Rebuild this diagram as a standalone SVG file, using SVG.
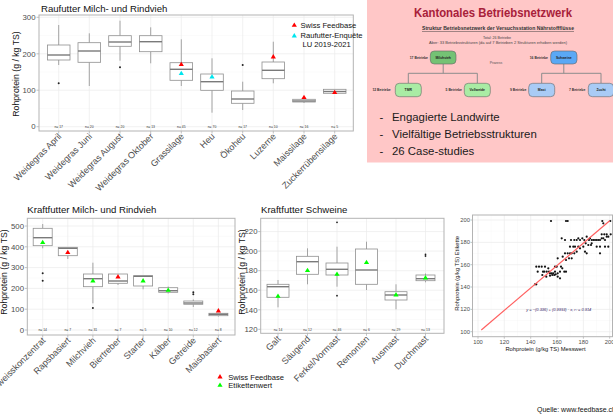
<svg xmlns="http://www.w3.org/2000/svg" xmlns:xlink="http://www.w3.org/1999/xlink" width="613" height="414" viewBox="0 0 613 414">
<style>
text{font-family:"Liberation Sans",Arial,sans-serif}
.gmaj{stroke:#ebebeb;stroke-width:0.7;fill:none}
.gmin{stroke:#f4f4f4;stroke-width:0.4;fill:none}
.panel{fill:none;stroke:#b3b3b3;stroke-width:1}
.tk{stroke:#b3b3b3;stroke-width:0.8}
.box{fill:#fff;stroke:#8f8f8f;stroke-width:0.8}
.wh{stroke:#8f8f8f;stroke-width:0.8}
.med{stroke:#7a7a7a;stroke-width:1.4}
.out{fill:#222}
.red{fill:#ff0000}
.cyan{fill:#00e5ee}
.green{fill:#00ff00}
.ty{font-size:7.8px;fill:#4d4d4d;text-anchor:end}
.xl{font-size:9px;fill:#4d4d4d;text-anchor:end}
.nl{font-size:3.4px;fill:#333;text-anchor:middle}
.ttl{font-size:9.6px;fill:#111}
.ax{font-size:8.7px;fill:#111;text-anchor:middle}
.lg{font-size:7.6px;fill:#111}
.sty{font-size:5.8px;fill:#4d4d4d;text-anchor:end}
.stx{font-size:5.8px;fill:#4d4d4d;text-anchor:middle}
.sax{font-size:5.8px;fill:#111;text-anchor:middle}
.pt{fill:#111}
.node{stroke:#666;stroke-width:0.6}
.nt{font-size:3.4px;font-weight:bold;fill:#222;text-anchor:middle}
.bt{font-size:3.4px;font-weight:bold;fill:#333;text-anchor:end}
.conn{stroke:#8c8c8c;stroke-width:1;fill:none}
.bul{font-size:11.4px;fill:#1a1a1a}
</style>
<defs>
<path id="tri" d="M0,-2.6 L2.6,1.8 L-2.6,1.8Z"/>
</defs>
<rect width="613" height="414" fill="#fff"/>

<!-- Chart A: Raufutter -->
<g id="chart-raufutter">
<text class="ttl" x="41" y="11.5">Raufutter Milch- und Rindvieh</text>
<path class="gmin" d="M39,108.5H353.3M39,72H353.3M39,35.5H353.3"/>
<path class="gmaj" d="M39,126.7H353.3M39,90.2H353.3M39,53.8H353.3M39,17.3H353.3M58.7,15V131M89.3,15V131M120,15V131M150.7,15V131M181.3,15V131M212,15V131M242.7,15V131M273.3,15V131M304,15V131M334.7,15V131"/>
<rect class="panel" x="39" y="15" width="314.3" height="116"/>
<path class="tk" d="M36.5,126.7H39M36.5,90.2H39M36.5,53.8H39M36.5,17.3H39M58.7,131V133.5M89.3,131V133.5M120,131V133.5M150.7,131V133.5M181.3,131V133.5M212,131V133.5M242.7,131V133.5M273.3,131V133.5M304,131V133.5M334.7,131V133.5"/>
<text class="ty" x="35.5" y="129.4">0</text>
<text class="ty" x="35.5" y="92.9">100</text>
<text class="ty" x="35.5" y="56.5">200</text>
<text class="ty" x="35.5" y="20">300</text>
<text class="ax" transform="translate(18.5 74) rotate(-90)">Rohprotein (g / kg TS)</text>
<g transform="translate(58.7 0)"><line class="wh" y1="25" y2="45"/><line class="wh" y1="60" y2="65"/><rect class="box" x="-11.3" y="45" width="22.6" height="15"/><line class="med" x1="-11.3" x2="11.3" y1="55" y2="55"/><circle class="out" cy="83.3" r="1"/></g>
<g transform="translate(89.3 0)"><line class="wh" y1="33.3" y2="42.7"/><line class="wh" y1="62.3" y2="86"/><rect class="box" x="-11.3" y="42.7" width="22.6" height="19.6"/><line class="med" x1="-11.3" x2="11.3" y1="51" y2="51"/></g>
<g transform="translate(120 0)"><line class="wh" y1="20.7" y2="35.7"/><line class="wh" y1="46.3" y2="60.7"/><rect class="box" x="-11.3" y="35.7" width="22.6" height="10.6"/><line class="med" x1="-11.3" x2="11.3" y1="42" y2="42"/><circle class="out" cy="67.3" r="1"/></g>
<g transform="translate(150.7 0)"><line class="wh" y1="27.3" y2="35.7"/><line class="wh" y1="51.7" y2="63.3"/><rect class="box" x="-11.3" y="35.7" width="22.6" height="16"/><line class="med" x1="-11.3" x2="11.3" y1="41.7" y2="41.7"/></g>
<g transform="translate(181.3 0)"><line class="wh" y1="39.3" y2="62.7"/><line class="wh" y1="80.3" y2="86"/><rect class="box" x="-11.3" y="62.7" width="22.6" height="17.6"/><line class="med" x1="-11.3" x2="11.3" y1="69.3" y2="69.3"/><use href="#tri" y="64.3" class="red"/><use href="#tri" y="73.3" class="cyan"/></g>
<g transform="translate(212 0)"><line class="wh" y1="58.3" y2="74"/><line class="wh" y1="90.3" y2="112.7"/><rect class="box" x="-11.3" y="74" width="22.6" height="16.3"/><line class="med" x1="-11.3" x2="11.3" y1="81.7" y2="81.7"/><use href="#tri" y="76.7" class="cyan"/></g>
<g transform="translate(242.7 0)"><line class="wh" y1="81.7" y2="91"/><line class="wh" y1="103.3" y2="110"/><rect class="box" x="-11.3" y="91" width="22.6" height="12.3"/><line class="med" x1="-11.3" x2="11.3" y1="99" y2="99"/><circle class="out" cy="65" r="1"/></g>
<g transform="translate(273.3 0)"><line class="wh" y1="41.7" y2="62"/><line class="wh" y1="78.7" y2="83.3"/><rect class="box" x="-11.3" y="62" width="22.6" height="16.7"/><line class="med" x1="-11.3" x2="11.3" y1="70.3" y2="70.3"/><use href="#tri" y="56.7" class="red"/></g>
<g transform="translate(304 0)"><line class="wh" y1="98.5" y2="103"/><rect class="box" x="-11.3" y="99.3" width="22.6" height="2.7"/><line class="med" x1="-11.3" x2="11.3" y1="101" y2="101"/><use href="#tri" y="97.3" class="red"/></g>
<g transform="translate(334.7 0)"><rect class="box" x="-11.3" y="89.3" width="22.6" height="4"/><line class="med" x1="-11.3" x2="11.3" y1="91.5" y2="91.5"/><use href="#tri" y="92.3" class="red"/></g>
<text class="nl" x="58.7" y="128">n= 17</text>
<text class="nl" x="89.3" y="128">n= 20</text>
<text class="nl" x="120" y="128">n= 20</text>
<text class="nl" x="150.7" y="128">n= 13</text>
<text class="nl" x="181.3" y="128">n= 45</text>
<text class="nl" x="212" y="128">n= 70</text>
<text class="nl" x="242.7" y="128">n= 17</text>
<text class="nl" x="273.3" y="128">n= 10</text>
<text class="nl" x="304" y="128">n= 16</text>
<text class="nl" x="334.7" y="128">n= 5</text>
<text class="xl" transform="translate(62 137) rotate(-45)">Weidegras April</text>
<text class="xl" transform="translate(92.6 137) rotate(-45)">Weidegras Juni</text>
<text class="xl" transform="translate(123.3 137) rotate(-45)">Weidegras August</text>
<text class="xl" transform="translate(154 137) rotate(-45)">Weidegras Oktober</text>
<text class="xl" transform="translate(184.6 137) rotate(-45)">Grassilage</text>
<text class="xl" transform="translate(215.3 137) rotate(-45)">Heu</text>
<text class="xl" transform="translate(246 137) rotate(-45)">Ökoheu</text>
<text class="xl" transform="translate(276.6 137) rotate(-45)">Luzerne</text>
<text class="xl" transform="translate(307.3 137) rotate(-45)">Maissilage</text>
<text class="xl" transform="translate(338 137) rotate(-45)">Zuckerrübensilage</text>
<use href="#tri" x="294.3" y="25" class="red"/>
<text class="lg" x="300.5" y="27.8">Swiss Feedbase</text>
<use href="#tri" x="294.3" y="35.7" class="cyan"/>
<text class="lg" x="300.5" y="38.3">Raufutter-Enquête</text>
<text class="lg" x="302.5" y="46.6">LU 2019-2021</text>
</g>

<!-- Kantonales Betriebsnetzwerk -->
<g id="betriebsnetzwerk">
<rect x="367" y="0" width="246" height="162.5" fill="#ffc7c7"/>
<text x="493" y="17" font-size="12" font-weight="bold" fill="#a8203a" text-anchor="middle" textLength="158" lengthAdjust="spacingAndGlyphs">Kantonales Betriebsnetzwerk</text>
<text x="498" y="30" font-size="4.6" font-weight="bold" fill="#333" text-anchor="middle" text-decoration="underline" textLength="152" lengthAdjust="spacingAndGlyphs">Struktur Betriebsnetzwerk der Versuchsstation Nährstoffflüsse</text>
<text x="497" y="38.6" font-size="3.6" fill="#444" text-anchor="middle">Total: 26 Betriebe</text>
<text x="498" y="43.6" font-size="3.6" fill="#444" text-anchor="middle" textLength="138" lengthAdjust="spacingAndGlyphs">Aber: 33 Betriebsstrukturen (da auf 7 Betrieben 2 Strukturen erhoben werden)</text>
<text x="496" y="63.5" font-size="3.5" fill="#555" text-anchor="middle">Prozess</text>
<g id="connectors">
<path class="conn" d="M443.2,64V73.3M408.3,73.3H477.3M408.3,73.3V83.3M477.3,73.3V83.3"/>
<path class="conn" d="M563.8,64V73.3M541.7,73.3H601M541.7,73.3V83.3M601,73.3V83.3"/>
</g>
<g id="node-milchvieh"><rect class="node" x="430.3" y="51" width="25.7" height="13" rx="4" fill="#74c274"/><text class="nt" x="443.2" y="58.7">Milchvieh</text><text class="bt" x="428" y="58.7">17 Betriebe</text></g>
<g id="node-schweine"><rect class="node" x="550.7" y="51" width="26.3" height="13" rx="4" fill="#5aa8f5"/><text class="nt" x="563.8" y="58.7">Schweine</text><text class="bt" x="548" y="58.7">16 Betriebe</text></g>
<g id="node-tmr"><rect class="node" x="395.3" y="83.3" width="26" height="13.4" rx="4" fill="#a9eca4"/><text class="nt" x="408.3" y="91.2">TMR</text><text class="bt" x="390.7" y="91.2">12 Betriebe</text></g>
<g id="node-vollweide"><rect class="node" x="464.3" y="83.3" width="26" height="13.4" rx="4" fill="#a9eca4"/><text class="nt" x="477.3" y="91.2">Vollweide</text><text class="bt" x="462" y="91.2">5 Betriebe</text></g>
<g id="node-mast"><rect class="node" x="528.7" y="83.3" width="26" height="13.4" rx="4" fill="#a9cbf5"/><text class="nt" x="541.7" y="91.2">Mast</text><text class="bt" x="526.3" y="91.2">9 Betriebe</text></g>
<g id="node-zucht"><rect class="node" x="588.3" y="83.3" width="25.4" height="13.4" rx="4" fill="#a9cbf5"/><text class="nt" x="601" y="91.2">Zucht</text><text class="bt" x="585.3" y="91.2">7 Betriebe</text></g>
<text class="bul" x="379.5" y="121">-</text><text class="bul" x="392" y="121">Engagierte Landwirte</text>
<text class="bul" x="379.5" y="138">-</text><text class="bul" x="392" y="138">Vielfältige Betriebsstrukturen</text>
<text class="bul" x="379.5" y="155">-</text><text class="bul" x="392" y="155">26 Case-studies</text>
</g>

<!-- Chart B: Kraftfutter Milch- und Rindvieh -->
<g id="chart-kraftfutter-milch">
<text class="ttl" x="27.3" y="213">Kraftfutter Milch- und Rindvieh</text>
<path class="gmin" d="M27.3,319.6H235M27.3,298.8H235M27.3,278H235M27.3,257.2H235M27.3,236.4H235"/>
<path class="gmaj" d="M27.3,330H235M27.3,309.2H235M27.3,288.4H235M27.3,267.6H235M27.3,246.8H235M27.3,226H235M42.7,218.3V335M67.8,218.3V335M92.9,218.3V335M118,218.3V335M143.1,218.3V335M168.2,218.3V335M193.3,218.3V335M218.4,218.3V335"/>
<rect class="panel" x="27.3" y="218.3" width="207.7" height="116.7"/>
<path class="tk" d="M24.8,330H27.3M24.8,309.2H27.3M24.8,288.4H27.3M24.8,267.6H27.3M24.8,246.8H27.3M24.8,226H27.3M42.7,335V337.5M67.8,335V337.5M92.9,335V337.5M118,335V337.5M143.1,335V337.5M168.2,335V337.5M193.3,335V337.5M218.4,335V337.5"/>
<text class="ty" x="24" y="332.7">0</text>
<text class="ty" x="24" y="311.9">100</text>
<text class="ty" x="24" y="291.1">200</text>
<text class="ty" x="24" y="270.3">300</text>
<text class="ty" x="24" y="249.5">400</text>
<text class="ty" x="24" y="228.7">500</text>
<text class="ax" transform="translate(7.3 272) rotate(-90)">Rohprotein (g / kg TS)</text>
<g transform="translate(42.7 0)"><line class="wh" y1="224" y2="228.3"/><line class="wh" y1="245.7" y2="248.3"/><rect class="box" x="-9.5" y="228.3" width="19" height="17.4"/><line class="med" x1="-9.5" x2="9.5" y1="237.7" y2="237.7"/><circle class="out" cy="273.3" r="1"/><circle class="out" cy="280.7" r="1"/><use href="#tri" y="242.3" class="green"/></g>
<g transform="translate(67.8 0)"><line class="wh" y1="255.7" y2="259"/><rect class="box" x="-9.5" y="247.3" width="19" height="8.4"/><line class="med" x1="-9.5" x2="9.5" y1="248.3" y2="248.3"/><use href="#tri" y="252.3" class="red"/></g>
<g transform="translate(92.9 0)"><line class="wh" y1="262.7" y2="274"/><line class="wh" y1="286.7" y2="303.3"/><rect class="box" x="-9.5" y="274" width="19" height="12.7"/><line class="med" x1="-9.5" x2="9.5" y1="278.7" y2="278.7"/><circle class="out" cy="308" r="1"/><use href="#tri" y="280.7" class="green"/></g>
<g transform="translate(118 0)"><line class="wh" y1="283.3" y2="285"/><rect class="box" x="-9.5" y="274" width="19" height="9.3"/><line class="med" x1="-9.5" x2="9.5" y1="281" y2="281"/><use href="#tri" y="276.7" class="red"/></g>
<g transform="translate(143.1 0)"><line class="wh" y1="286" y2="289.3"/><rect class="box" x="-9.5" y="275.7" width="19" height="10.3"/><line class="med" x1="-9.5" x2="9.5" y1="276.3" y2="276.3"/><use href="#tri" y="280.7" class="green"/></g>
<g transform="translate(168.2 0)"><line class="wh" y1="286.5" y2="293.5"/><rect class="box" x="-9.5" y="287.7" width="19" height="4.6"/><line class="med" x1="-9.5" x2="9.5" y1="290.7" y2="290.7"/><use href="#tri" y="290" class="green"/></g>
<g transform="translate(193.3 0)"><line class="wh" y1="299.5" y2="307"/><rect class="box" x="-9.5" y="301" width="19" height="3.3"/><line class="med" x1="-9.5" x2="9.5" y1="303" y2="303"/><circle class="out" cy="292.3" r="1"/><circle class="out" cy="294.3" r="1"/></g>
<g transform="translate(218.4 0)"><line class="wh" y1="315.7" y2="316.5"/><rect class="box" x="-9.5" y="313.3" width="19" height="2.4"/><line class="med" x1="-9.5" x2="9.5" y1="314.3" y2="314.3"/><use href="#tri" y="310.7" class="red"/></g>
<text class="nl" x="42.7" y="331.3">n= 14</text>
<text class="nl" x="67.8" y="331.3">n= 7</text>
<text class="nl" x="92.9" y="331.3">n= 31</text>
<text class="nl" x="118" y="331.3">n= 7</text>
<text class="nl" x="143.1" y="331.3">n= 5</text>
<text class="nl" x="168.2" y="331.3">n= 10</text>
<text class="nl" x="193.3" y="331.3">n= 12</text>
<text class="nl" x="218.4" y="331.3">n= 8</text>
<text class="xl" transform="translate(46 341) rotate(-45)">Eiweisskonzentrat</text>
<text class="xl" transform="translate(71.1 341) rotate(-45)">Rapsbasiert</text>
<text class="xl" transform="translate(96.2 341) rotate(-45)">Milchvieh</text>
<text class="xl" transform="translate(121.3 341) rotate(-45)">Biertreber</text>
<text class="xl" transform="translate(146.4 341) rotate(-45)">Starter</text>
<text class="xl" transform="translate(171.5 341) rotate(-45)">Kälber</text>
<text class="xl" transform="translate(196.6 341) rotate(-45)">Getreide</text>
<text class="xl" transform="translate(221.7 341) rotate(-45)">Maisbasiert</text>
<use href="#tri" x="220" y="376.7" class="red"/>
<text class="lg" x="228.3" y="379.6">Swiss Feedbase</text>
<use href="#tri" x="220" y="385" class="green"/>
<text class="lg" x="228.3" y="387.9">Etikettenwert</text>
</g>

<!-- Chart C: Kraftfutter Schweine -->
<g id="chart-kraftfutter-schweine">
<text class="ttl" x="261" y="212.5">Kraftfutter Schweine</text>
<path class="gmin" d="M260.7,319.5H444M260.7,300H444M260.7,280.5H444M260.7,260.9H444M260.7,241.4H444M260.7,221.8H444"/>
<path class="gmaj" d="M260.7,329.3H444M260.7,309.8H444M260.7,290.2H444M260.7,270.7H444M260.7,251.1H444M260.7,231.6H444M278,218.3V333.3M307.5,218.3V333.3M337,218.3V333.3M366.5,218.3V333.3M396,218.3V333.3M425.5,218.3V333.3"/>
<rect class="panel" x="260.7" y="218.3" width="183.3" height="115"/>
<path class="tk" d="M258.2,329.3H260.7M258.2,309.8H260.7M258.2,290.2H260.7M258.2,270.7H260.7M258.2,251.1H260.7M258.2,231.6H260.7M278,333.3V335.8M307.5,333.3V335.8M337,333.3V335.8M366.5,333.3V335.8M396,333.3V335.8M425.5,333.3V335.8"/>
<text class="ty" x="257.5" y="332">120</text>
<text class="ty" x="257.5" y="312.5">140</text>
<text class="ty" x="257.5" y="292.9">160</text>
<text class="ty" x="257.5" y="273.4">180</text>
<text class="ty" x="257.5" y="253.8">200</text>
<text class="ty" x="257.5" y="234.3">220</text>
<text class="ax" transform="translate(245 272) rotate(-90)">Rohprotein (g / kg TS)</text>
<g transform="translate(278 0)"><line class="wh" y1="280" y2="284.3"/><line class="wh" y1="297.3" y2="307.3"/><rect class="box" x="-11" y="284.3" width="22" height="13"/><line class="med" x1="-11" x2="11" y1="286.7" y2="286.7"/><use href="#tri" y="296" class="green"/></g>
<g transform="translate(307.5 0)"><line class="wh" y1="248.3" y2="256.3"/><line class="wh" y1="274.3" y2="284.3"/><rect class="box" x="-11" y="256.3" width="22" height="18"/><line class="med" x1="-11" x2="11" y1="261.7" y2="261.7"/><use href="#tri" y="270.3" class="green"/></g>
<g transform="translate(337 0)"><line class="wh" y1="246.7" y2="263"/><line class="wh" y1="275" y2="286.7"/><rect class="box" x="-11" y="263" width="22" height="12"/><line class="med" x1="-11" x2="11" y1="269.3" y2="269.3"/><circle class="out" cy="222.3" r="0.9"/><circle class="out" cy="295.7" r="0.9"/><use href="#tri" y="274" class="green"/></g>
<g transform="translate(366.5 0)"><line class="wh" y1="241.7" y2="249"/><line class="wh" y1="284.3" y2="290"/><rect class="box" x="-11" y="249" width="22" height="35.3"/><line class="med" x1="-11" x2="11" y1="270" y2="270"/><use href="#tri" y="262.3" class="green"/></g>
<g transform="translate(396 0)"><line class="wh" y1="284.3" y2="291.7"/><line class="wh" y1="300" y2="309.3"/><rect class="box" x="-11" y="291.7" width="22" height="8.3"/><line class="med" x1="-11" x2="11" y1="295" y2="295"/><use href="#tri" y="294.7" class="green"/></g>
<g transform="translate(425.5 0)"><line class="wh" y1="273.5" y2="275"/><line class="wh" y1="280.7" y2="282.3"/><rect class="box" x="-9.5" y="275" width="19" height="5.7"/><line class="med" x1="-9.5" x2="9.5" y1="278.7" y2="278.7"/><circle class="out" cy="254.3" r="0.9"/><circle class="out" cy="256" r="0.9"/><use href="#tri" y="277.7" class="green"/></g>
<text class="nl" x="278" y="330.6">n= 14</text>
<text class="nl" x="307.5" y="330.6">n= 12</text>
<text class="nl" x="337" y="330.6">n= 46</text>
<text class="nl" x="366.5" y="330.6">n= 6</text>
<text class="nl" x="396" y="330.6">n= 29</text>
<text class="nl" x="425.5" y="330.6">n= 13</text>
<text class="xl" transform="translate(281.3 339.5) rotate(-45)">Galt</text>
<text class="xl" transform="translate(310.8 339.5) rotate(-45)">Säugend</text>
<text class="xl" transform="translate(340.3 339.5) rotate(-45)">Ferkel/Vormast</text>
<text class="xl" transform="translate(369.8 339.5) rotate(-45)">Remonten</text>
<text class="xl" transform="translate(399.3 339.5) rotate(-45)">Ausmast</text>
<text class="xl" transform="translate(428.8 339.5) rotate(-45)">Durchmast</text>
</g>

<!-- Chart D: Scatter -->
<g id="chart-scatter">
<path class="gmin" d="M491.2,215V336.7M517.5,215V336.7M543.9,215V336.7M570.2,215V336.7M596.5,215V336.7M472.5,320.5H612.5M472.5,298.2H612.5M472.5,275.9H612.5M472.5,253.5H612.5M472.5,231.2H612.5"/>
<path class="gmaj" d="M478,215V336.7M504.3,215V336.7M530.7,215V336.7M557,215V336.7M583.4,215V336.7M609.7,215V336.7M472.5,331.7H612.5M472.5,309.4H612.5M472.5,287H612.5M472.5,264.7H612.5M472.5,242.4H612.5M472.5,220H612.5"/>
<rect class="panel" x="472.5" y="215" width="140" height="121.7"/>
<path class="tk" d="M470.5,331.7H472.5M470.5,309.4H472.5M470.5,287H472.5M470.5,264.7H472.5M470.5,242.4H472.5M470.5,220H472.5M478,336.7V338.7M504.3,336.7V338.7M530.7,336.7V338.7M557,336.7V338.7M583.4,336.7V338.7M609.7,336.7V338.7"/>
<text class="sty" x="470" y="333.7">100</text>
<text class="sty" x="470" y="311.4">120</text>
<text class="sty" x="470" y="289">140</text>
<text class="sty" x="470" y="266.7">160</text>
<text class="sty" x="470" y="244.4">180</text>
<text class="sty" x="470" y="222">200</text>
<text class="stx" x="478" y="344">100</text>
<text class="stx" x="504.3" y="344">120</text>
<text class="stx" x="530.7" y="344">140</text>
<text class="stx" x="557" y="344">160</text>
<text class="stx" x="583.4" y="344">180</text>
<text class="stx" x="609.7" y="344">200</text>
<text class="sax" x="545.5" y="350.8">Rohprotein (g/kg TS) Messwert</text>
<text class="sax" transform="translate(459.3 273.3) rotate(-90)">Rohprotein (g/kg TS) Etikette</text>
<g class="pt">
<circle cx="551" cy="221" r="1.1"/><circle cx="566" cy="221" r="1.1"/><circle cx="567.7" cy="221" r="1.1"/><circle cx="602.3" cy="221" r="1.1"/><circle cx="603.3" cy="223.3" r="1.1"/><circle cx="610.3" cy="221" r="1.1"/>
<circle cx="561.7" cy="238.3" r="1.1"/><circle cx="565" cy="240" r="1.1"/><circle cx="571" cy="240" r="1.1"/><circle cx="574.3" cy="240" r="1.1"/><circle cx="576.7" cy="240" r="1.1"/><circle cx="578.3" cy="238.3" r="1.1"/><circle cx="580" cy="240" r="1.1"/><circle cx="582.3" cy="238.3" r="1.1"/><circle cx="584.3" cy="240" r="1.1"/><circle cx="586.7" cy="236.7" r="1.1"/><circle cx="589" cy="240" r="1.1"/><circle cx="590" cy="238.3" r="1.1"/><circle cx="591.7" cy="240" r="1.1"/><circle cx="593.3" cy="240" r="1.1"/><circle cx="595" cy="240" r="1.1"/><circle cx="596.7" cy="240" r="1.1"/><circle cx="598.3" cy="240" r="1.1"/><circle cx="600" cy="240" r="1.1"/><circle cx="601.7" cy="238.3" r="1.1"/><circle cx="603.3" cy="238.3" r="1.1"/><circle cx="605" cy="240" r="1.1"/><circle cx="606.7" cy="236.7" r="1.1"/><circle cx="608.3" cy="236.7" r="1.1"/><circle cx="610.7" cy="234.3" r="1.1"/><circle cx="601.7" cy="234.3" r="1.1"/><circle cx="604.3" cy="234.3" r="1.1"/><circle cx="606.7" cy="234.3" r="1.1"/>
<circle cx="570" cy="246.7" r="1.1"/><circle cx="573.3" cy="246.7" r="1.1"/><circle cx="575" cy="246.7" r="1.1"/><circle cx="578.3" cy="246.7" r="1.1"/><circle cx="583.3" cy="246.7" r="1.1"/><circle cx="588.3" cy="245" r="1.1"/><circle cx="591" cy="245" r="1.1"/><circle cx="596.7" cy="246.7" r="1.1"/><circle cx="600" cy="246.7" r="1.1"/><circle cx="605" cy="246.7" r="1.1"/><circle cx="591.7" cy="243.3" r="1.1"/><circle cx="585.7" cy="243.3" r="1.1"/><circle cx="608.3" cy="246.7" r="1.1"/>
<circle cx="565" cy="253.3" r="1.1"/><circle cx="567.7" cy="253.3" r="1.1"/><circle cx="570" cy="253.3" r="1.1"/><circle cx="571.7" cy="253.3" r="1.1"/><circle cx="574.3" cy="253.3" r="1.1"/><circle cx="576.7" cy="251.7" r="1.1"/><circle cx="580" cy="248.3" r="1.1"/><circle cx="585" cy="251.7" r="1.1"/><circle cx="586.7" cy="253.3" r="1.1"/><circle cx="600" cy="253.3" r="1.1"/>
<circle cx="557.7" cy="258.3" r="1.1"/><circle cx="562.7" cy="256.7" r="1.1"/><circle cx="566" cy="260" r="1.1"/><circle cx="569" cy="258.3" r="1.1"/><circle cx="571.7" cy="258.3" r="1.1"/>
<circle cx="536.3" cy="266.7" r="1.1"/><circle cx="539" cy="266.7" r="1.1"/><circle cx="541.7" cy="266.7" r="1.1"/><circle cx="545" cy="266.7" r="1.1"/><circle cx="548.3" cy="268.3" r="1.1"/><circle cx="555" cy="266.7" r="1.1"/><circle cx="556.7" cy="266.7" r="1.1"/><circle cx="561" cy="266.7" r="1.1"/><circle cx="562.3" cy="268.3" r="1.1"/>
<circle cx="537.7" cy="271.7" r="1.1"/><circle cx="543" cy="271.7" r="1.1"/><circle cx="544.3" cy="271.7" r="1.1"/><circle cx="546.7" cy="271.7" r="1.1"/><circle cx="549" cy="271.7" r="1.1"/><circle cx="550" cy="273.3" r="1.1"/><circle cx="551.7" cy="273.3" r="1.1"/><circle cx="553.3" cy="273.3" r="1.1"/><circle cx="555" cy="271.7" r="1.1"/><circle cx="557.7" cy="273.3" r="1.1"/><circle cx="560" cy="271.7" r="1.1"/><circle cx="564.3" cy="271.7" r="1.1"/><circle cx="566" cy="271.7" r="1.1"/>
<circle cx="542.3" cy="275" r="1.1"/><circle cx="546.3" cy="276.7" r="1.1"/><circle cx="550" cy="275.7" r="1.1"/><circle cx="552.3" cy="275" r="1.1"/><circle cx="554.3" cy="275" r="1.1"/><circle cx="557.7" cy="276.7" r="1.1"/><circle cx="555.7" cy="274.3" r="1.1"/><circle cx="560" cy="278.3" r="1.1"/>
<circle cx="535" cy="284.3" r="1.1"/><circle cx="536.3" cy="284.3" r="1.1"/>
</g>
<line x1="481.3" y1="330" x2="609.7" y2="220.7" stroke="#ff5f5f" stroke-width="1.2"/>
<text x="558.8" y="311" font-size="3.8" fill="#3a2a6a" text-anchor="middle" font-style="italic" textLength="65" lengthAdjust="spacingAndGlyphs">y = −(0.336) + (0.9993) · x,  r² = 0.914</text>
</g>

<text x="537" y="412" font-size="7" fill="#111">Quelle: www.feedbase.ch</text>
</svg>
